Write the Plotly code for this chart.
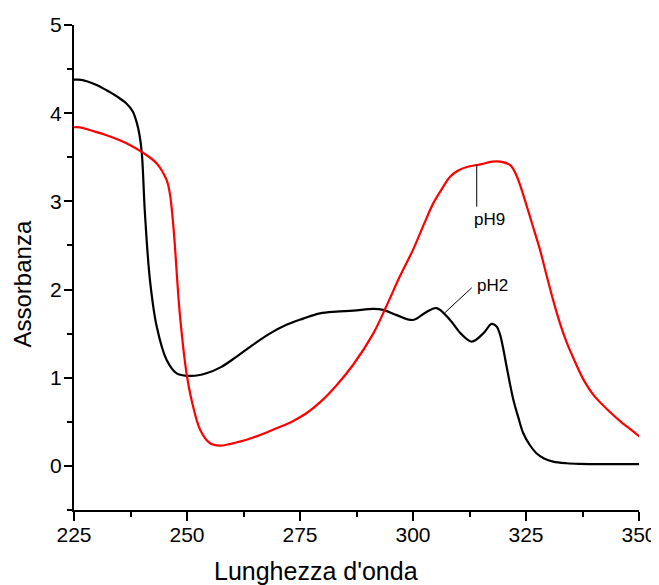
import plotly.graph_objects as go

# pH2 spectrum (black)
ph2_x = [223.7, 226.0, 228.0, 230.0, 232.2, 234.5, 236.6, 238.0, 238.9, 239.5, 240.0, 240.7,
         241.8, 243.3, 245.5, 247.7, 251.0, 254.3, 257.5, 261.0, 264.5, 268.3, 272.0, 275.7,
         279.4, 283.0, 286.8, 291.2, 293.4, 296.4, 300.0, 302.8, 305.2, 308.2, 310.6, 313.0,
         315.5, 317.4, 318.5, 319.2, 320.0, 320.7, 322.2, 323.3, 324.4, 325.8, 327.3, 329.0,
         331.0, 334.0, 336.9, 342.0, 347.0, 351.6]
ph2_y = [4.376, 4.38, 4.36, 4.32, 4.26, 4.19, 4.11, 4.02, 3.89, 3.75, 3.55, 2.86,
         2.11, 1.58, 1.20, 1.05, 1.02, 1.05, 1.12, 1.24, 1.37, 1.50, 1.60, 1.67,
         1.73, 1.75, 1.76, 1.78, 1.77, 1.71, 1.655, 1.74, 1.79, 1.655, 1.50, 1.41,
         1.50, 1.61, 1.58, 1.50, 1.32, 1.13, 0.75, 0.55, 0.37, 0.24, 0.144, 0.085,
         0.049, 0.03, 0.023, 0.02, 0.02, 0.019]

# pH9 spectrum (red)
ph9_x = [223.9, 226.3, 229.0, 232.2, 236.6, 240.3, 243.3, 245.5, 246.2, 247.0, 248.4, 249.9,
         251.0, 252.9, 255.1, 257.3, 261.7, 264.5, 267.6, 270.5, 273.5, 276.5, 279.4, 283.0,
         286.8, 291.2, 294.1, 297.1, 300.0, 302.5, 304.5, 306.5, 308.2, 310.0, 311.9, 314.9,
         317.5, 319.3, 321.5, 323.0, 325.2, 326.5, 328.1, 329.5, 331.0, 332.5, 334.0, 335.5,
         337.6, 340.0, 343.4, 346.0, 348.5, 351.6]
ph9_y = [3.835, 3.84, 3.80, 3.75, 3.66, 3.55, 3.43, 3.24, 3.09, 2.71, 1.73, 1.05,
         0.75, 0.41, 0.257, 0.23, 0.276, 0.32, 0.38, 0.44, 0.51, 0.60, 0.72, 0.91,
         1.15, 1.50, 1.81, 2.15, 2.45, 2.75, 2.98, 3.15, 3.28, 3.35, 3.39, 3.42,
         3.45, 3.45, 3.41, 3.28, 2.94, 2.72, 2.45, 2.17, 1.88, 1.62, 1.40, 1.22,
         0.99, 0.80, 0.62, 0.50, 0.40, 0.27]

x_ticks = [225, 250, 275, 300, 325, 350]
y_ticks = [0, 1, 2, 3, 4, 5]

x_title = "Lunghezza d'onda"
y_title = "Assorbanza"

labels = ["pH9", "pH2"]
label_pos = [(317.0, 2.80), (317.6, 2.05)]
leader_lines = [((314.1, 3.41), (314.1, 2.94)), ((307.0, 1.735), (313.0, 2.02))]

FONT = "Liberation Sans, Arial, sans-serif"

fig = go.Figure()
fig.add_trace(go.Scatter(x=ph2_x, y=ph2_y, mode="lines", name="pH2",
                         line=dict(color="black", width=2.2, shape="spline", smoothing=1.0)))
fig.add_trace(go.Scatter(x=ph9_x, y=ph9_y, mode="lines", name="pH9",
                         line=dict(color="#ff0000", width=2.2, shape="spline", smoothing=1.0)))

for (a, b) in leader_lines:
    fig.add_shape(type="line", x0=a[0], y0=a[1], x1=b[0], y1=b[1], xref="x", yref="y",
                  line=dict(color="black", width=1))
for txt, (px, py) in zip(labels, label_pos):
    fig.add_annotation(x=px, y=py, text=txt, showarrow=False, xref="x", yref="y",
                       font=dict(family=FONT, size=17, color="black"))

# axis titles (placed off-centre as in the reference)
fig.add_annotation(x=0.428, y=-0.126, xref="paper", yref="paper", text=x_title,
                   showarrow=False, xanchor="center", yanchor="middle",
                   font=dict(family=FONT, size=25, color="black"))
fig.add_annotation(x=-0.0903, y=0.467, xref="paper", yref="paper", text=y_title,
                   showarrow=False, xanchor="center", yanchor="middle", textangle=-90,
                   font=dict(family=FONT, size=24, color="black"))

fig.update_layout(
    width=659, height=585,
    margin=dict(l=66, r=28, t=17, b=83),
    plot_bgcolor="white", paper_bgcolor="white",
    showlegend=False,
    font=dict(family=FONT, color="black"),
)
fig.update_xaxes(
    range=[225, 350], tickvals=x_ticks, ticktext=[str(v) for v in x_ticks],
    automargin=False,
    showgrid=False, zeroline=False, showline=True, linecolor="black", linewidth=2,
    ticks="outside", ticklen=9, tickwidth=1.5, tickcolor="black",
    minor=dict(dtick=12.5, tick0=225, ticks="outside", ticklen=5, tickwidth=1.5, tickcolor="black"),
    tickfont=dict(family=FONT, size=21, color="black"),
    ticklabelstandoff=-4,
)
fig.update_yaxes(
    range=[-0.5, 5], tickvals=y_ticks, ticktext=[str(v) for v in y_ticks],
    automargin=False,
    showgrid=False, zeroline=False, showline=True, linecolor="black", linewidth=2,
    ticks="outside", ticklen=8, tickwidth=1.5, tickcolor="black",
    minor=dict(dtick=0.5, tick0=0, ticks="outside", ticklen=5, tickwidth=1.5, tickcolor="black"),
    tickfont=dict(family=FONT, size=21, color="black"),
    ticklabelstandoff=-2,
)

fig.write_html("out.html")
